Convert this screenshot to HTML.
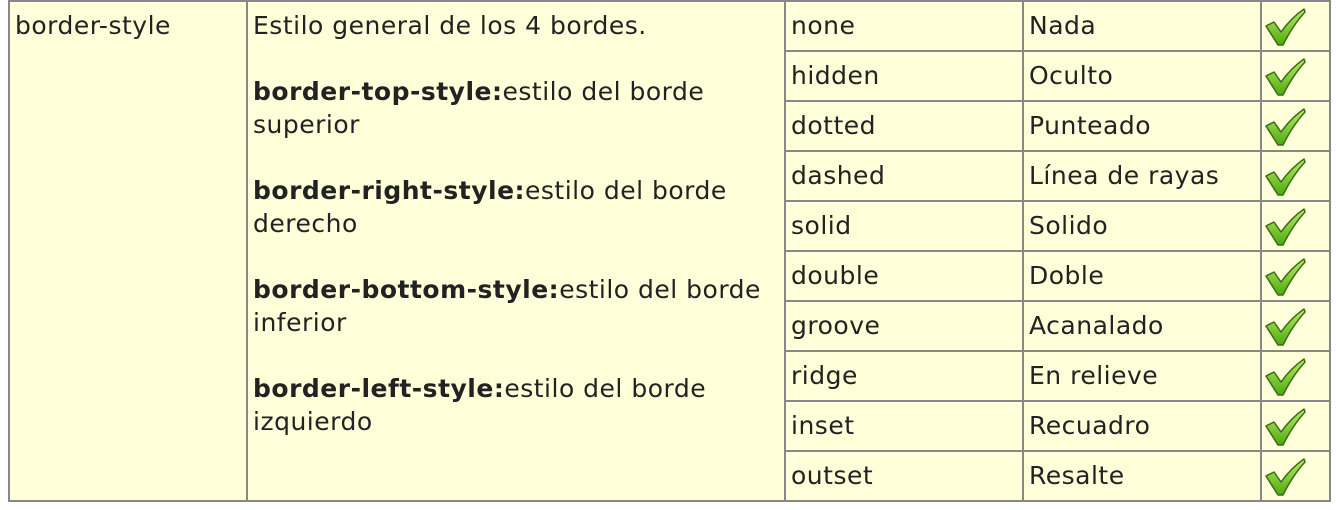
<!DOCTYPE html>
<html><head><meta charset="utf-8"><style>
body{margin:0;width:1336px;height:510px;background:#fff;position:relative;overflow:hidden;font-family:"DejaVu Sans","Liberation Sans",sans-serif;font-size:25px;letter-spacing:0.5px;color:#222;}
.bg{position:absolute;left:8px;top:0;width:1322px;height:502px;background:#ffffd9;}
.h{position:absolute;height:2px;background:#888;}
.v{position:absolute;width:2px;background:#888;}
.t{position:absolute;white-space:nowrap;line-height:33px;}
b{font-weight:bold;}
.ck{position:absolute;left:1265px;width:42px;height:42px;}
</style></head><body>
<div class="bg"></div>
<div class="h" style="left:8px;top:0;width:1322px"></div>
<div class="h" style="left:8px;top:500px;width:1322px"></div>
<div class="h" style="left:785px;top:50px;width:545px"></div>
<div class="h" style="left:785px;top:100px;width:545px"></div>
<div class="h" style="left:785px;top:150px;width:545px"></div>
<div class="h" style="left:785px;top:200px;width:545px"></div>
<div class="h" style="left:785px;top:250px;width:545px"></div>
<div class="h" style="left:785px;top:300px;width:545px"></div>
<div class="h" style="left:785px;top:350px;width:545px"></div>
<div class="h" style="left:785px;top:400px;width:545px"></div>
<div class="h" style="left:785px;top:450px;width:545px"></div>
<div class="v" style="left:8px;top:0;height:502px"></div>
<div class="v" style="left:246px;top:0;height:502px"></div>
<div class="v" style="left:784px;top:0;height:502px"></div>
<div class="v" style="left:1022px;top:0;height:502px"></div>
<div class="v" style="left:1260px;top:0;height:502px"></div>
<div class="v" style="left:1329px;top:0;height:502px"></div>

<div class="t" style="left:15px;top:9px">border-style</div>
<div class="t" style="left:253px;top:9px">Estilo general de los 4 bordes.</div>
<div class="t" style="left:253px;top:75px"><b>border-top-style:</b>estilo del borde<br>superior</div>
<div class="t" style="left:253px;top:174px"><b>border-right-style:</b>estilo del borde<br>derecho</div>
<div class="t" style="left:253px;top:273px"><b>border-bottom-style:</b>estilo del borde<br>inferior</div>
<div class="t" style="left:253px;top:372px"><b>border-left-style:</b>estilo del borde<br>izquierdo</div>

<div class="t" style="left:791px;top:9px">none</div>
<div class="t" style="left:791px;top:59px">hidden</div>
<div class="t" style="left:791px;top:109px">dotted</div>
<div class="t" style="left:791px;top:159px">dashed</div>
<div class="t" style="left:791px;top:209px">solid</div>
<div class="t" style="left:791px;top:259px">double</div>
<div class="t" style="left:791px;top:309px">groove</div>
<div class="t" style="left:791px;top:359px">ridge</div>
<div class="t" style="left:791px;top:409px">inset</div>
<div class="t" style="left:791px;top:459px">outset</div>

<div class="t" style="left:1029px;top:9px">Nada</div>
<div class="t" style="left:1029px;top:59px">Oculto</div>
<div class="t" style="left:1029px;top:109px">Punteado</div>
<div class="t" style="left:1029px;top:159px">Línea de rayas</div>
<div class="t" style="left:1029px;top:209px">Solido</div>
<div class="t" style="left:1029px;top:259px">Doble</div>
<div class="t" style="left:1029px;top:309px">Acanalado</div>
<div class="t" style="left:1029px;top:359px">En relieve</div>
<div class="t" style="left:1029px;top:409px">Recuadro</div>
<div class="t" style="left:1029px;top:459px">Resalte</div>

<svg width="0" height="0" style="position:absolute"><defs>
<linearGradient id="g" x1="0" y1="0" x2="0" y2="1"><stop offset="0" stop-color="#b8f060"/><stop offset="1" stop-color="#4caa10"/></linearGradient>
<symbol id="c" viewBox="0 0 42 42"><path d="M1 21 L9 17 L16 27 Q26 13 39 4 L40 7 Q28 20 18 40 L13 40 Z" fill="url(#g)" stroke="#3c6a1a" stroke-width="1.5" stroke-linejoin="round"/></symbol>
</defs></svg>
<svg class="ck" style="top:5px"><use href="#c"/></svg>
<svg class="ck" style="top:55px"><use href="#c"/></svg>
<svg class="ck" style="top:105px"><use href="#c"/></svg>
<svg class="ck" style="top:155px"><use href="#c"/></svg>
<svg class="ck" style="top:205px"><use href="#c"/></svg>
<svg class="ck" style="top:255px"><use href="#c"/></svg>
<svg class="ck" style="top:305px"><use href="#c"/></svg>
<svg class="ck" style="top:355px"><use href="#c"/></svg>
<svg class="ck" style="top:405px"><use href="#c"/></svg>
<svg class="ck" style="top:455px"><use href="#c"/></svg>
</body></html>
